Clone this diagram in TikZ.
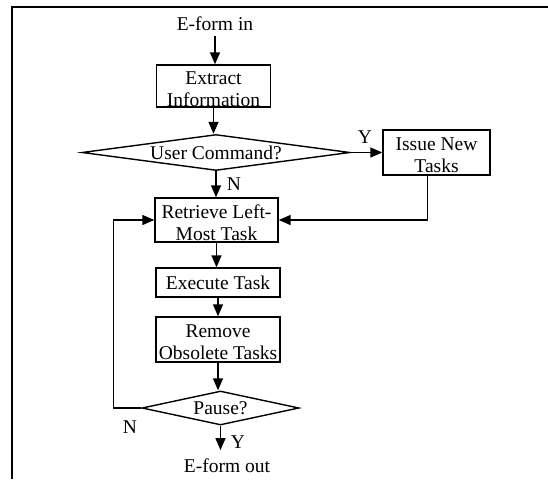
\documentclass[tikz,border=0pt]{standalone}
\usepackage{fontspec}
\setmainfont{Liberation Serif}
\usetikzlibrary{shapes.geometric,arrows.meta}
\newcommand\toplift{\rule{0pt}{19pt}}
\begin{document}
\begin{tikzpicture}[x=1pt,y=-1pt,
  fnt/.style={font=\fontsize{19.5}{22}\selectfont},
  box/.style={draw,line width=1.4pt,inner sep=0pt,align=center,fnt},
  dia/.style={draw,diamond,line width=1.4pt,inner sep=0pt,aspect=8,fnt},
  txt/.style={inner sep=1pt,fnt},
  arr/.style={line width=1.5pt,-{Triangle[length=12pt,width=10pt]}},
  ln/.style={line width=1.4pt}]
\useasboundingbox (0,0) rectangle (548,479);
% frame
\draw[line width=1.3pt] (12,479) -- (12,7) -- (548,7);
% nodes
\node[txt,anchor=base] (ein) at (215,30) {E-form in};
\node[box,minimum width=114pt,minimum height=42pt] (extract) at (213.5,86) {\toplift Extract\\Information};
\node[dia,minimum width=268pt,minimum height=36pt] (uc) at (216,152.5) {\makebox[0pt]{User Command?}};
\node[box,minimum width=107pt,minimum height=45pt] (issue) at (436.5,152.5) {\toplift Issue New\\Tasks};
\node[box,minimum width=123pt,minimum height=44pt] (retrieve) at (216.5,220) {\toplift Retrieve Left-\\Most Task};
\node[box,minimum width=124pt,minimum height=29pt] (execute) at (218,282.5) {Execute Task};
\node[box,minimum width=124pt,minimum height=45pt] (remove) at (218,339.5) {\toplift Remove\\Obsolete Tasks};
\node[dia,minimum width=157pt,minimum height=34pt] (pause) at (220.5,408) {\makebox[0pt]{\raisebox{-3pt}{Pause?}}};
\node[txt,anchor=base] (eout) at (227,472) {E-form out};
% labels
\node[txt] (ly1) at (365,137) {Y};
\node[txt] (ln1) at (234,184) {N};
\node[txt] (ln2) at (130,427) {N};
\node[txt] (ly2) at (238,442) {Y};
% connectors
\draw[arr,shorten <=5pt] (ein.south) -- (ein.south |- extract.north);
\draw[arr] (extract.south) -- (extract.south |- uc.north);
\draw[arr] (uc.east) -- (issue.west);
\draw[arr] (uc.south) -- (uc.south |- retrieve.north);
\draw[arr] ([xshift=-9pt]issue.south) |- (retrieve.east);
\draw[arr] (retrieve.south) -- (retrieve.south |- execute.north);
\draw[arr] (execute.south) -- (execute.south |- remove.north);
\draw[arr] (remove.south) -- (remove.south |- pause.north);
\draw[arr] (pause.west) -- ++(-28,0) coordinate (loopc) |- (retrieve.west);
\draw[arr,shorten >=7pt] (pause.south) -- (pause.south |- eout.north);
\end{tikzpicture}
\end{document}
